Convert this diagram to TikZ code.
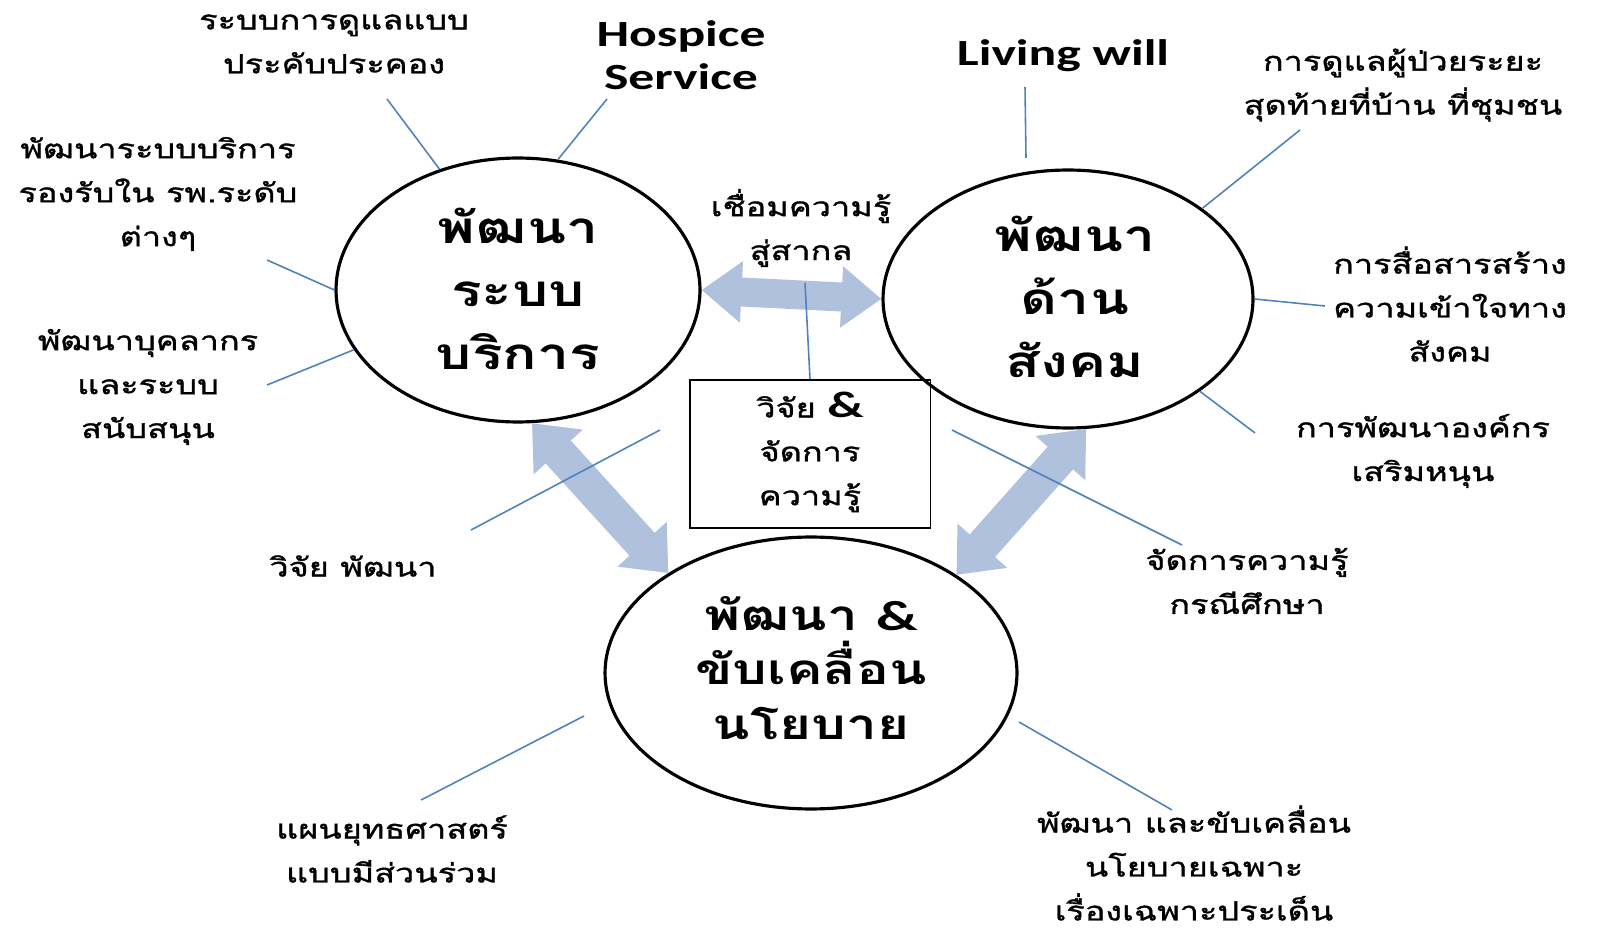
\documentclass[tikz,border=0pt]{standalone}
\usepackage{fontspec}
\newfontfamily\thaifont[Script=Thai, FakeStretch=1.3]{Loma}
\newfontfamily\thainote[Script=Thai, FakeStretch=1.3, FakeBold=1.2]{Loma}
\newfontfamily\engfont[FakeStretch=1.4]{Carlito}
\usetikzlibrary{shapes.geometric, arrows.meta}
\definecolor{leadblue}{RGB}{79,129,189}
\definecolor{arrowblue}{RGB}{176,193,221}

\begin{document}
\begin{tikzpicture}[x=0.02cm, y=-0.02cm,
    hub/.style={ellipse, draw, line width=1.8pt, inner sep=0pt},
    hubtext/.style={align=center, inner sep=0pt, font=\thaifont\bfseries\fontsize{25}{36}\selectfont},
    note/.style={align=center, inner sep=0pt, font=\thainote\fontsize{15}{25}\selectfont},
    title/.style={align=center, inner sep=0pt, font=\engfont\bfseries\fontsize{21}{24.5}\selectfont},
    lead/.style={draw=leadblue, line width=0.9pt},
    fatarrow/.style={draw=arrowblue, line width=0.58cm,
        {Triangle[length=0.8cm, width=1.18cm]}-{Triangle[length=0.8cm, width=1.18cm]}},
    fatdiag/.style={draw=arrowblue, line width=0.68cm,
        {Triangle[length=0.78cm, width=1.28cm]}-{Triangle[length=0.78cm, width=1.28cm]}}
]
    % --- 画布大小 ---
    \useasboundingbox (0,0) rectangle (1598,935);
    \def\amp{{\engfont\bfseries\&}}
    \def\bigamp{{\engfont\bfseries\fontsize{21}{25}\selectfont\&}}

    % --- 三个主圆 ---
    \node[hub, minimum width=7.28cm, minimum height=5.28cm] (sys) at (518,290) {};
    \node[hub, minimum width=7.4cm, minimum height=5.16cm] (soc) at (1068,299) {};
    \node[hub, minimum width=8.24cm, minimum height=5.44cm] (pol) at (811,673) {};

    % --- 中间方框 ---
    \node[draw, line width=1.1pt, minimum width=4.82cm, minimum height=2.96cm] (kbox) at (810,454) {};

    % --- 粗双向箭头 ---
    \draw[fatarrow] (sys.east) -- (soc.west);
    \draw[fatdiag] (sys.-84) -- (pol.145);
    \draw[fatdiag] (soc.-82) -- (pol.34);

    % --- 圆内文字 ---
    \node[hubtext] (sys-t) at (518,289) {พัฒนา\\ระบบ\\บริการ};
    \node[hubtext] (soc-t) at (1075,297) {พัฒนา\\ด้าน\\สังคม};
    \node[hubtext, font=\thaifont\bfseries\fontsize{24}{31}\selectfont] (pol-t) at (811,668) {พัฒนา \amp\\ขับเคลื่อน\\นโยบาย};
    \node[note] (kbox-t) at (810,452) {วิจัย \bigamp\\จัดการ\\ความรู้};

    % --- 外围标签 ---
    \node[note] (pal) at (334,44) {ระบบการดูแลแบบ\\ประคับประคอง};
    \node[title] (hosp) at (681,55) {Hospice\\Service};
    \node[note] (svc) at (158,194) {พัฒนาระบบบริการ\\รองรับใน รพ.ระดับ\\ต่างๆ};
    \node[note] (staff) at (148,387) {พัฒนาบุคลากร\\และระบบ\\สนับสนุน};
    \node[note] (link) at (801,228) {เชื่อมความรู้\\สู่สากล};
    \node[title] (will) at (1063,56) {Living will};
    \node[note] (home) at (1403,85) {การดูแลผู้ป่วยระยะ\\สุดท้ายที่บ้าน ที่ชุมชน};
    \node[note] (comm) at (1450,304) {การสื่อสารสร้าง\\ความเข้าใจทาง\\สังคม};
    \node[note] (org) at (1423,451) {การพัฒนาองค์กร\\เสริมหนุน};
    \node[note] (rd) at (353,566) {วิจัย พัฒนา};
    \node[note] (case) at (1247,581) {จัดการความรู้\\กรณีศึกษา};
    \node[note] (strat) at (392,849) {แผนยุทธศาสตร์\\แบบมีส่วนร่วม};
    \node[note] (spec) at (1194,863) {พัฒนา และขับเคลื่อน\\นโยบายเฉพาะ\\เรื่องเฉพาะประเด็น};

    % --- 连线端点 ---
    \coordinate (pal-e) at (387,99);
    \coordinate (hosp-e) at (607,99);
    \coordinate (svc-e) at (267,260);
    \coordinate (staff-e) at (267,385);
    \coordinate (link-e) at (805,283);
    \coordinate (will-e) at (1025,87);
    \coordinate (will-f) at (1026,158);
    \coordinate (home-e) at (1300,130);
    \coordinate (comm-e) at (1325,306);
    \coordinate (org-e) at (1255,433);
    \coordinate (rd-e) at (471,530);
    \coordinate (rd-f) at (660,430);
    \coordinate (case-e) at (1182,545);
    \coordinate (case-f) at (952,430);
    \coordinate (strat-e) at (421,800);
    \coordinate (strat-f) at (584,716);
    \coordinate (spec-e) at (1172,810);
    \coordinate (spec-f) at (1019,722);

    % --- 细连线 ---
    \draw[lead] (pal-e) -- (sys.123);
    \draw[lead] (hosp-e) -- (sys.73);
    \draw[lead] (svc-e) -- (sys.180);
    \draw[lead] (staff-e) -- (sys.-160);
    \draw[lead] (link-e) -- (kbox.north);
    \draw[lead] (will-e) -- (will-f);
    \draw[lead] (home-e) -- (soc.34);
    \draw[lead] (comm-e) -- (soc.0);
    \draw[lead] (org-e) -- (soc.-35);
    \draw[lead] (rd-e) -- (rd-f);
    \draw[lead] (case-e) -- (case-f);
    \draw[lead] (strat-e) -- (strat-f);
    \draw[lead] (spec-e) -- (spec-f);

\end{tikzpicture}
\end{document}
